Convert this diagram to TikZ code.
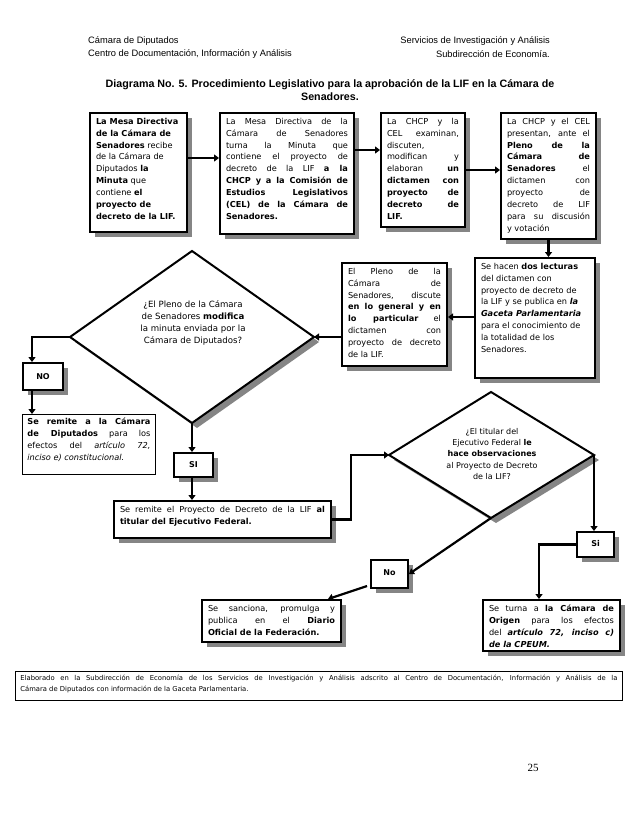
\documentclass[tikz,border=0pt]{standalone}
\usepackage{fontspec}
\setmainfont{DejaVu Sans}
\newfontfamily\arialf{Liberation Sans}
\newfontfamily\timesf{Liberation Serif}
\usetikzlibrary{arrows.meta,calc,shadows}
\newcommand\jl[1]{\makebox[\linewidth][s]{#1}\\}
\tikzset{
  boxshadow/.style={drop shadow={shadow xshift=5pt,shadow yshift=-5pt,fill=black!48,opacity=1}},
  box/.style={draw=black,line width=2pt,fill=white,inner xsep=6pt,inner ysep=5pt,anchor=north west,boxshadow,font=\fontsize{8.2}{11.9}\selectfont},
  thinbox/.style={draw=black,line width=0.8pt,fill=white,inner xsep=5pt,inner ysep=4pt,anchor=north west,font=\fontsize{8.2}{11.9}\selectfont},
  tagbox/.style={draw=black,line width=2pt,fill=white,inner sep=0pt,anchor=north west,boxshadow,font=\bfseries\fontsize{8}{9}\selectfont},
  arr/.style={line width=2.2pt,-{Triangle[length=5pt,width=7pt]}},
  dshadow/.style={fill=black!48},
  dia/.style={draw=black,line width=2pt,fill=white,line join=miter},
  hdr/.style={font=\arialf\fontsize{9.3}{11}\selectfont,inner sep=0pt},
}
\begin{document}
\begin{tikzpicture}[x=1pt,y=-1pt]
\useasboundingbox (0,0) rectangle (638,826);
\fill[white] (0,0) rectangle (638,826);

% header
\node[hdr,anchor=west] (h1) at (88,41) {Cámara de Diputados};
\node[hdr,anchor=west] (h2) at (88,54) {Centro de Documentación, Información y Análisis};
\node[hdr,anchor=east] (h3) at (550,41) {Servicios de Investigación y Análisis};
\node[hdr,anchor=east] (h4) at (550,54) {Subdirección de Economía.};
\node[font=\arialf\bfseries\fontsize{10.7}{12.5}\selectfont,align=center,inner sep=0pt] (title) at (330,90)
  {Diagrama No. 5. Procedimiento Legislativo para la aprobación de la LIF en la Cámara de\\Senadores.};

% diamonds
\coordinate (d1t) at (192,251);
\coordinate (d1r) at (314,337);
\coordinate (d1b) at (192,423);
\coordinate (d1l) at (70,337);
\fill[dshadow] ([shift={(5,5)}]d1t) -- ([shift={(5,5)}]d1r) -- ([shift={(5,5)}]d1b) -- ([shift={(5,5)}]d1l) -- cycle;
\draw[dia] (d1t) -- (d1r) -- (d1b) -- (d1l) -- cycle;
\node[align=center,font=\fontsize{8.6}{12.3}\selectfont,inner sep=0pt] (d1txt) at (193,323)
  {¿El Pleno de la Cámara\\de Senadores \textbf{modifica}\\la minuta enviada por la\\Cámara de Diputados?};

\coordinate (d2t) at (491,392);
\coordinate (d2r) at (594,455);
\coordinate (d2b) at (491,518);
\coordinate (d2l) at (389,455);
\fill[dshadow] ([shift={(5,5)}]d2t) -- ([shift={(5,5)}]d2r) -- ([shift={(5,5)}]d2b) -- ([shift={(5,5)}]d2l) -- cycle;
\draw[dia] (d2t) -- (d2r) -- (d2b) -- (d2l) -- cycle;
\node[align=center,font=\fontsize{8.0}{11.4}\selectfont,inner sep=0pt] (d2txt) at (492,454)
  {¿El titular del\\Ejecutivo Federal \textbf{le}\\\textbf{hace observaciones}\\al Proyecto de Decreto\\de la LIF?};

% boxes
\node[box] (b1) at (89,112) {\parbox[t][109pt][t]{85pt}{\raggedright
\textbf{La Mesa Directiva}\\
\textbf{de la Cámara de}\\
\textbf{Senadores} recibe\\
de la Cámara de\\
Diputados \textbf{la}\\
\textbf{Minuta} que\\
contiene \textbf{el}\\
\textbf{proyecto de}\\
\textbf{decreto de la LIF.}}};

\node[box] (b2) at (219,112) {\parbox[t][111pt][t]{122pt}{
\jl{La Mesa Directiva de la}
\jl{Cámara de Senadores}
\jl{turna la Minuta que}
\jl{contiene el proyecto de}
\jl{decreto de la LIF \textbf{a la}}
\jl{\textbf{CHCP y a la Comisión de}}
\jl{\textbf{Estudios Legislativos}}
\jl{\textbf{(CEL) de la Cámara de}}
\textbf{Senadores.}}};

\node[box] (b3) at (380,112) {\parbox[t][104pt][t]{72pt}{
\jl{La CHCP y la}
\jl{CEL examinan,}
discuten,\\
\jl{modifican y}
\jl{elaboran \textbf{un}}
\jl{\textbf{dictamen con}}
\jl{\textbf{proyecto de}}
\jl{\textbf{decreto de}}
\textbf{LIF.}}};

\node[box] (b4) at (500,112) {\parbox[t][116pt][t]{83pt}{
\jl{La CHCP y el CEL}
\jl{presentan, ante el}
\jl{\textbf{Pleno de la}}
\jl{\textbf{Cámara de}}
\jl{\textbf{Senadores} el}
\jl{dictamen con}
\jl{proyecto de}
\jl{decreto de LIF}
\jl{para su discusión}
y votación}};

\node[box] (b5) at (474,257) {\parbox[t][110pt][t]{108pt}{\raggedright
Se hacen \textbf{dos lecturas}\\
del dictamen con\\
proyecto de decreto de\\
la LIF y se publica en \textbf{\textit{la}}\\
\textbf{\textit{Gaceta Parlamentaria}}\\
para el conocimiento de\\
la totalidad de los\\
Senadores.}};

\node[box] (b6) at (341,262) {\parbox[t][93pt][t]{93pt}{
\jl{El Pleno de la}
\jl{Cámara de}
\jl{Senadores, discute}
\jl{\textbf{en lo general y en}}
\jl{\textbf{lo particular} el}
\jl{dictamen con}
\jl{proyecto de decreto}
de la LIF.}};

\node[tagbox,minimum width=40pt,minimum height=27pt] (no1) at (22,362) {NO};

\node[thinbox] (rem) at (22,414) {\parbox[t][52pt][t]{123pt}{
\jl{\textbf{Se remite a la Cámara}}
\jl{\textbf{de Diputados} para los}
\jl{efectos del \textit{artículo 72,}}
\textit{inciso e) constitucional.}}};

\node[tagbox,minimum width=39pt,minimum height=24pt] (si1) at (173,452) {SI};

\node[box] (b7) at (113,500) {\parbox[t][27pt][t]{205pt}{
\jl{Se remite el Proyecto de Decreto de la LIF \textbf{al}}
\textbf{titular del Ejecutivo Federal.}}};

\node[tagbox,minimum width=37pt,minimum height=25pt] (si2) at (576,531) {\raisebox{2pt}{Si}};
\node[tagbox,minimum width=37pt,minimum height=28pt] (no2) at (370,559) {\raisebox{3pt}{No}};

\node[box] (b8) at (201,599) {\parbox[t][32pt][t]{127pt}{
\jl{Se sanciona, promulga y}
\jl{publica en el \textbf{Diario}}
\textbf{Oficial de la Federación.}}};

\node[box] (b9) at (482,599) {\parbox[t][41pt][t]{125pt}{
\jl{Se turna a \textbf{la Cámara de}}
\jl{\textbf{Origen} para los efectos}
\jl{del \textbf{\textit{artículo 72, inciso c)}}}
\textbf{\textit{de la CPEUM.}}}};

\node[thinbox,font=\fontsize{6.8}{10.5}\selectfont] (foot) at (15,671) {\parbox[t][21pt][t]{597pt}{
\jl{Elaborado en la Subdirección de Economía de los Servicios de Investigación y Análisis adscrito al Centro de Documentación, Información y Análisis de la}
Cámara de Diputados con información de la Gaceta Parlamentaria.}};

\node[font=\timesf\fontsize{11}{13}\selectfont,inner sep=0pt] (pg) at (533,768) {25};

% connectors
\draw[arr] (b1.east |- 0,158) -- (b2.west |- 0,158);
\draw[arr] (b2.east |- 0,150) -- (b3.west |- 0,150);
\draw[arr] (b3.east |- 0,170) -- (b4.west |- 0,170);
\draw[arr] (b4.south) -- (b5.north -| b4.south);
\draw[arr] (b5.west |- 0,317) -- (b6.east |- 0,317);
\draw[arr] (b6.west |- d1r) -- (d1r);
\draw[arr] (d1l) -| (no1.north -| 32,0);
\draw[arr] (no1.south -| 32,0) -- (rem.north -| 32,0);
\draw[arr] (d1b) -- (si1.north -| d1b);
\draw[arr] (si1.south -| d1b) -- (b7.north -| d1b);
\coordinate (k1) at (351,455);
\draw[arr] (b7.east) -| (k1) -- (d2l);
\draw[arr] (d2r) -- (si2.north -| d2r);
\draw[arr] (si2.west) -| (b9.north -| 539,0);
\draw[arr] (d2b) -- (no2.east);
\draw[arr] ($(no2.south west)+(-3,-3)$) -- (b8.north -| 328,0);
\end{tikzpicture}
\end{document}
